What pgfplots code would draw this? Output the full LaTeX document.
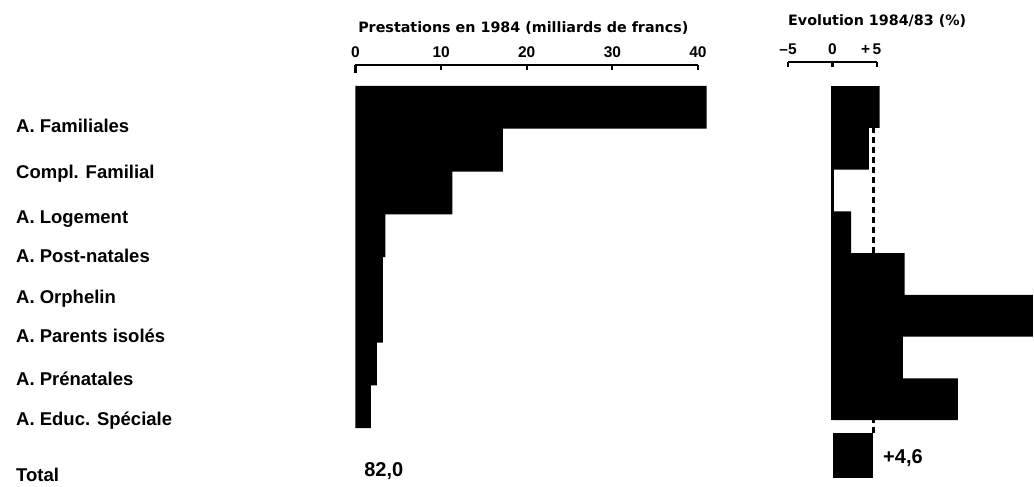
\documentclass[border=0pt]{standalone}
\usepackage{pgfplots}
\pgfplotsset{compat=1.18}
\usepackage{fontspec}
\setmainfont{Liberation Sans}
\newfontfamily\dejavu{DejaVu Sans}
\begin{document}
\begin{tikzpicture}
\useasboundingbox (0,0) rectangle (1034pt,-487pt);
% ---------------- left panel ----------------
\begin{axis}[
  at={(355.5pt,-65pt)}, anchor=north west,
  scale only axis, width=342.5pt, height=415pt,
  xmin=0, xmax=40, ymin=-0.991, ymax=8.716, y dir=reverse,
  clip=false,
  axis x line*=top, axis y line*=left,
  y axis line style={draw=none},
  x axis line style={line width=2.2pt},
  xtick={0,10,20,30,40}, xticklabels={0,10,20,30,40},
  tick align=inside,
  major tick length=5pt,
  xtick style={line width=2.2pt, black},
  ytick style={draw=none},
  xticklabel style={font=\fontsize{15.5}{15.5}\selectfont\bfseries, anchor=base, inner sep=0pt, yshift=8pt},
  ytick={0.436,1.51,2.56,3.47,4.44,5.35,6.34,7.28,8.6},
  yticklabels={A. Familiales, Compl. Familial, A. Logement, A. Post-natales, A. Orphelin, A. Parents isolés, A. Prénatales, A. Educ. Spéciale, Total},
  yticklabel style={font=\fontsize{18.5}{18.5}\selectfont\bfseries, anchor=base west, inner sep=0pt, xshift=-339.5pt, yshift=-6.6pt},
]
\addplot[xbar, bar width=1, bar shift=0pt, fill=black, draw=none]
  coordinates {(41.0,0) (17.2,1) (11.3,2) (3.5,3) (3.2,4) (3.2,5) (2.5,6) (1.8,7)};
\addplot[line width=2.2pt] coordinates {(0,-0.991) (0,-0.80)};
\node[anchor=base west, inner sep=0pt, font=\fontsize{20}{20}\selectfont\bfseries] at (axis cs:1.0,8.64) {82,0};
\node[anchor=base west, inner sep=0pt, yshift=33pt, font={\dejavu\bfseries\fontsize{14.3}{16}\selectfont}] at (axis cs:0.3,-0.991) {Prestations en 1984 (milliards de francs)};
\end{axis}
% ---------------- right panel ----------------
\begin{axis}[
  at={(788pt,-62pt)}, anchor=north west,
  scale only axis, width=89pt, height=418pt,
  xmin=-5, xmax=5, ymin=-1.075, ymax=8.937, y dir=reverse,
  clip=false,
  axis x line*=top, axis y line=none,
  x axis line style={line width=2.2pt},
  xtick={-5,0,5}, xticklabels={--5,0,\llap{+\,}5},
  ytick=\empty,
  tick align=inside,
  major tick length=5pt,
  xtick style={line width=2.2pt, black},
  xticklabel style={font=\fontsize{15.5}{15.5}\selectfont\bfseries, anchor=base, inner sep=0pt, yshift=8pt},
]
\addplot[xbar, bar width=1, bar shift=0pt, fill=black, draw=none]
  coordinates {(5.3,0) (4.1,1) (0,2) (2.1,3) (8.1,4) (22.5,5) (7.9,6) (14.1,7)};
\addplot[xbar, bar width=1.08, bar shift=0pt, fill=black, draw=none]
  coordinates {(4.6,8.35)};
\addplot[line width=2.4pt] coordinates {(0,-0.5) (0,7.5)};
\addplot[line width=2.4pt, dash pattern=on 6pt off 4pt] coordinates {(4.6,0.48) (4.6,7.81)};
\node[anchor=base west, inner sep=0pt, xshift=9.6pt, yshift=-8.5pt, font=\fontsize{20}{20}\selectfont\bfseries] at (axis cs:4.6,8.35) {+4,6};
\node[anchor=base west, inner sep=0pt, yshift=37pt, font={\dejavu\bfseries\fontsize{14.3}{16}\selectfont}] at (axis cs:-5,-1.075) {Evolution 1984/83 (\%)};
\end{axis}
\end{tikzpicture}
\end{document}
